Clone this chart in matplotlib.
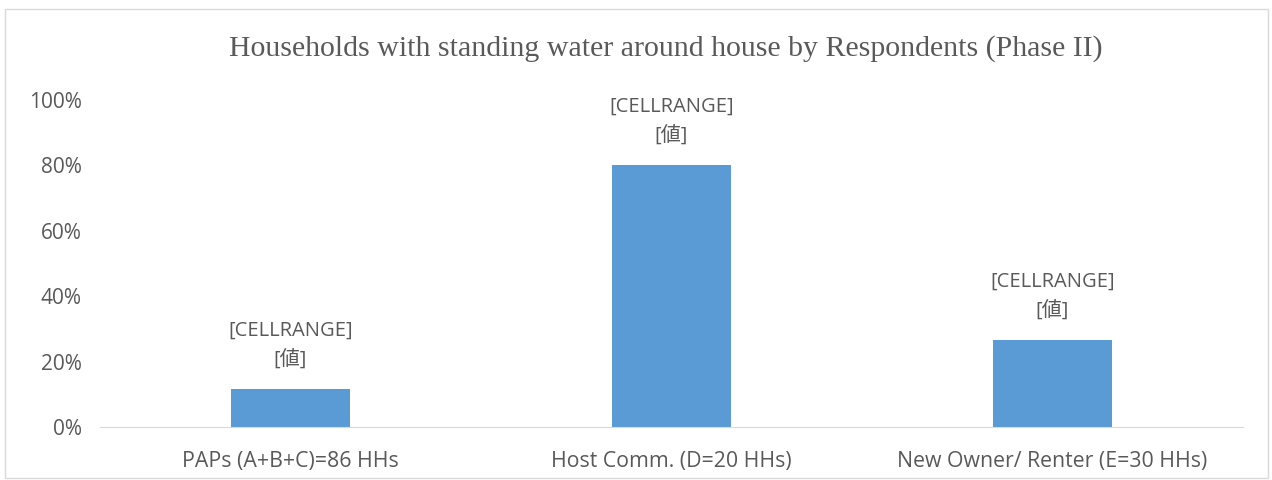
import matplotlib.pyplot as plt

categories = ["PAPs (A+B+C)=86 HHs", "Host Comm. (D=20 HHs)", "New Owner/ Renter (E=30 HHs)"]
values = [11.6, 80.0, 26.7]
labels = ["[CELLRANGE]\n[値]", "[CELLRANGE]\n[値]", "[CELLRANGE]\n[値]"]
yticks = [0, 20, 40, 60, 80, 100]

txt = "#595959"
fam = ["Open Sans", "Noto Sans CJK JP", "DejaVu Sans"]

fig = plt.figure(figsize=(12.72, 4.8), dpi=100)
ax = fig.add_axes([100 / 1272, 53 / 480, 1143 / 1272, 327 / 480])

x = range(len(categories))
bars = ax.bar(x, values, width=0.31, color="#5b9bd5")
ax.set_xlim(-0.5, 2.5)
ax.set_ylim(0, 100)
ax.set_yticks(yticks)
ax.set_yticklabels([f"{t}%" for t in yticks], family=fam, fontsize=15, color=txt)
ax.set_xticks(list(x))
ax.set_xticklabels(categories, family=fam, fontsize=15.3, color=txt)
ax.tick_params(length=0)
ax.tick_params(axis="y", pad=13)
ax.tick_params(axis="x", pad=17)

for s in ["top", "right", "left"]:
    ax.spines[s].set_visible(False)
ax.spines["bottom"].set_color("#d9d9d9")

for b, lab in zip(bars, labels):
    ax.annotate(lab, (b.get_x() + b.get_width() / 2, b.get_height()),
                xytext=(0, 14), textcoords="offset points", ha="center", va="bottom",
                family=fam, fontsize=14.5, color=txt, linespacing=1.55)

fig.text(666 / 1272, 1 - 49 / 480, "Households with standing water around house by Respondents (Phase II)",
         ha="center", va="center", family="Liberation Serif", fontsize=21.5, color=txt)

# outer border
fig.add_artist(plt.Rectangle((5 / 1272, 2 / 480), 1263 / 1272, 469 / 480, transform=fig.transFigure,
                             fill=False, edgecolor="#d9d9d9", linewidth=1))

fig.savefig("out.png", dpi=100)
